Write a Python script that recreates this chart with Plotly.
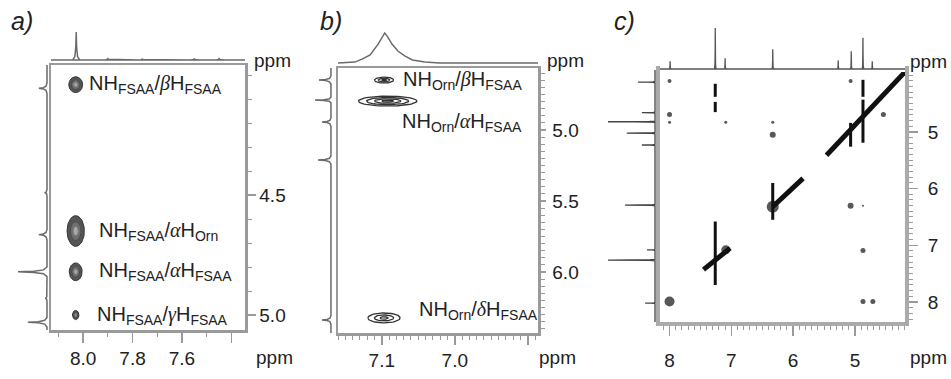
import numpy as np
import plotly.graph_objects as go

W, H = 951, 379
FONT = "Liberation Sans"
GREY = "#9a9a9a"
TXT = "#222222"
SPEC = "#6a6a6a"

def G(s):
    return '<span style="font-family:Liberation Serif"><i>%s</i></span>' % s

# ---------------- panel a data ----------------
a_spot_x = [8.03, 8.03, 8.03, 8.03]
a_spot_y = [4.04, 4.65, 4.82, 5.00]
a_spot_rx = [0.028, 0.035, 0.026, 0.013]
a_spot_ry = [0.033, 0.064, 0.037, 0.019]
a_label_text = ["NH<sub>FSAA</sub>/" + G("β") + "H<sub>FSAA</sub>",
                "NH<sub>FSAA</sub>/" + G("α") + "H<sub>Orn</sub>",
                "NH<sub>FSAA</sub>/" + G("α") + "H<sub>FSAA</sub>",
                "NH<sub>FSAA</sub>/" + G("γ") + "H<sub>FSAA</sub>"]
a_label_x = [7.985, 7.945, 7.945, 7.95]
a_label_y = [4.04, 4.65, 4.82, 5.00]
a_top_ppm = [8.028, 7.90, 7.76, 7.55, 7.45]
a_top_int = [1.0, 0.05, 0.03, 0.04, 0.05]
a_top_hw = [0.014, 0.02, 0.02, 0.02, 0.02]
a_left_ppm = [4.055, 4.49, 4.665, 4.82, 4.93, 5.03]
a_left_int = [0.28, 0.06, 0.28, 1.0, 0.06, 0.66]
a_left_hw = [0.022, 0.015, 0.022, 0.02, 0.015, 0.02]
a_xticks = [8.0, 7.8, 7.6, 7.4]
a_xtick_text = ["8.0", "7.8", "7.6", ""]
a_yticks = [4.5, 5.0]
a_ytick_text = ["4.5", "5.0"]

# ---------------- panel b data ----------------
b_spot_x = [7.097, 7.092, 7.097]
b_spot_y = [4.648, 4.796, 6.324]
b_spot_rx = [0.013, 0.040, 0.022]
b_spot_ry = [0.021, 0.035, 0.035]
b_label_text = ["NH<sub>Orn</sub>/" + G("β") + "H<sub>FSAA</sub>",
                "NH<sub>Orn</sub>/" + G("α") + "H<sub>FSAA</sub>",
                "NH<sub>Orn</sub>/" + G("δ") + "H<sub>FSAA</sub>"]
b_label_x = [7.074, 7.075, 7.052]
b_label_y = [4.648, 4.944, 6.268]
b_top_ppm = [7.162, 7.137, 7.127, 7.116, 7.105, 7.100, 7.096, 7.092, 7.086,
             7.078, 7.068, 7.058, 7.041, 7.021, 6.886]
b_top_int = [0, 0.03, 0.13, 0.27, 0.63, 0.83, 1.0, 0.87, 0.63, 0.4, 0.23,
             0.1, 0.03, 0, 0]
b_left_ppm = [4.648, 4.789, 4.944, 5.211, 6.338]
b_left_int = [0.75, 1.0, 0.56, 0.81, 0.56]
b_left_hw = [0.03, 0.02, 0.03, 0.03, 0.03]
b_xticks = [7.1, 7.0, 6.9]
b_xtick_text = ["7.1", "7.0", ""]
b_yticks = [5.0, 5.5, 6.0]
b_ytick_text = ["5.0", "5.5", "6.0"]

# ---------------- panel c data ----------------
c_dot_x = [8.0, 8.0, 8.0, 7.09, 6.33, 6.33, 5.07, 4.54, 6.33, 5.07, 4.87,
           7.09, 4.87, 8.0, 4.87, 4.71]
c_dot_y = [4.10, 4.69, 4.83, 4.83, 4.83, 5.05, 4.10, 4.69, 6.32, 6.30, 6.30,
           7.08, 7.09, 7.99, 7.99, 7.99]
c_dot_size = [4, 5, 3, 3, 3, 6, 4, 5, 12, 6, 2, 9, 5, 10, 5, 5]
c_diag_x0 = [7.45, 6.33, 5.46]
c_diag_y0 = [7.43, 6.32, 5.41]
c_diag_x1 = [7.02, 5.84, 4.19]
c_diag_y1 = [7.05, 5.82, 3.94]
c_streak_x = [7.26, 7.26, 4.87, 7.26, 6.33, 5.07, 4.87]
c_streak_y0 = [4.15, 4.47, 4.08, 6.58, 5.90, 4.84, 4.43]
c_streak_y1 = [4.38, 4.65, 4.38, 7.70, 6.55, 5.26, 5.19]
c_top_ppm = [7.99, 7.26, 7.10, 6.33, 5.27, 5.06, 4.87, 4.72]
c_top_int = [0.19, 1.0, 0.26, 0.48, 0.21, 0.43, 0.76, 0.19]
c_left_ppm = [4.12, 4.66, 4.82, 5.02, 5.23, 6.29, 7.08, 7.26, 8.02]
c_left_int = [0.36, 0.28, 1.0, 0.6, 0.28, 0.64, 0.17, 1.0, 0.21]
c_xticks = [8, 7, 6, 5]
c_yticks = [5, 6, 7, 8]


def spikes(centers, ints, hws, lo, hi):
    order = np.argsort(centers)
    xs, ys = [lo], [0]
    for i in order:
        c, h, w = centers[i], ints[i], hws[i]
        xs += [c - w, c - 0.4 * w, c - 0.12 * w, c, c + 0.12 * w, c + 0.4 * w, c + w]
        ys += [0, 0.12 * h, 0.45 * h, h, 0.45 * h, 0.12 * h, 0]
    xs.append(hi)
    ys.append(0)
    return xs, ys


def ellipse(cx, cy, rx, ry, n=60):
    t = np.linspace(0, 2 * np.pi, n)
    return cx + rx * np.cos(t), cy + ry * np.sin(t)


fig = go.Figure()

# ---- panel a traces ----
for cx, cy, rx, ry in zip(a_spot_x, a_spot_y, a_spot_rx, a_spot_ry):
    for s, fc, lc in [(1.0, "#555555", "#333333"), (0.62, "#6e6e6e", "#4a4a4a"),
                      (0.3, "#a8a8a8", "#808080")]:
        ex, ey = ellipse(cx, cy, rx * s, ry * s)
        fig.add_trace(go.Scatter(x=ex, y=ey, xaxis="x", yaxis="y", mode="lines",
                                 fill="toself", fillcolor=fc,
                                 line=dict(color=lc, width=1), hoverinfo="skip"))
tx, ty = spikes(a_top_ppm, a_top_int, a_top_hw, 8.13, 7.345)
fig.add_trace(go.Scatter(x=tx, y=ty, xaxis="x", yaxis="y2", mode="lines",
                         line=dict(color=SPEC, width=1.5)))
ly, lx = spikes(a_left_ppm, a_left_int, a_left_hw, 3.958, 5.0625)
fig.add_trace(go.Scatter(x=lx, y=ly, xaxis="x2", yaxis="y", mode="lines",
                         line=dict(color=SPEC, width=1.5)))

# ---- panel b traces ----
for k, (cx, cy, rx, ry) in enumerate(zip(b_spot_x, b_spot_y, b_spot_rx, b_spot_ry)):
    scales = [1.0, 0.72, 0.45, 0.2] if k == 1 else [1.0, 0.6, 0.25]
    for s in scales:
        ex, ey = ellipse(cx, cy, rx * s, ry * s)
        fig.add_trace(go.Scatter(x=ex, y=ey, xaxis="x3", yaxis="y3", mode="lines",
                                 line=dict(color="#333333", width=1.3), hoverinfo="skip"))
fig.add_trace(go.Scatter(x=b_top_ppm, y=b_top_int, xaxis="x3", yaxis="y4", mode="lines",
                         line=dict(color=SPEC, width=1.5)))
ly, lx = spikes(b_left_ppm, b_left_int, b_left_hw, 4.563, 6.43)
fig.add_trace(go.Scatter(x=lx, y=ly, xaxis="x4", yaxis="y3", mode="lines",
                         line=dict(color=SPEC, width=1.5)))

# ---- panel c traces ----
for x0, y0, x1, y1 in zip(c_diag_x0, c_diag_y0, c_diag_x1, c_diag_y1):
    fig.add_trace(go.Scatter(x=[x0, x1], y=[y0, y1], xaxis="x5", yaxis="y5", mode="lines",
                             line=dict(color="#111111", width=5)))
for sx, s0, s1 in zip(c_streak_x, c_streak_y0, c_streak_y1):
    fig.add_trace(go.Scatter(x=[sx, sx], y=[s0, s1], xaxis="x5", yaxis="y5", mode="lines",
                             line=dict(color="#111111", width=3)))
fig.add_trace(go.Scatter(x=c_dot_x, y=c_dot_y, xaxis="x5", yaxis="y5", mode="markers",
                         marker=dict(size=c_dot_size, color="#111111", line=dict(width=0))))
tx, ty = spikes(c_top_ppm, c_top_int, [0.012] * len(c_top_ppm), 8.154, 4.19)
fig.add_trace(go.Scatter(x=tx, y=ty, xaxis="x5", yaxis="y6", mode="lines",
                         line=dict(color="#555555", width=1.3)))
ly, lx = spikes(c_left_ppm, c_left_int, [0.012] * len(c_left_ppm), 3.907, 8.353)
fig.add_trace(go.Scatter(x=lx, y=ly, xaxis="x6", yaxis="y5", mode="lines",
                         line=dict(color="#444444", width=1.3)))


def px(v):
    return v / W


def py(v):
    return 1 - v / H


tickfont = dict(family=FONT, size=19, color=TXT)


def main_x(dom, anchor, rng, tv, tt, ticklen, minor_dt, standoff):
    return dict(domain=dom, anchor=anchor, range=rng, showgrid=False, zeroline=False,
                automargin=False,
                showline=True, mirror=True, linecolor=GREY, linewidth=2.5,
                ticks="outside", ticklen=ticklen, tickwidth=1.5, tickcolor=GREY,
                tickmode="array", tickvals=tv, ticktext=tt, tickfont=tickfont,
                ticklabelstandoff=standoff,
                minor=dict(tickmode="linear", tick0=0, dtick=minor_dt, ticks="outside",
                           ticklen=4, tickcolor=GREY, tickwidth=1))


def main_y(dom, anchor, rng, tv, tt, ticklen, minor_dt, standoff):
    d = main_x(dom, anchor, rng, tv, tt, ticklen, minor_dt, standoff)
    d["side"] = "right"
    return d


hid = dict(visible=False, showgrid=False, zeroline=False, fixedrange=True, automargin=False)

fig.update_layout(
    template="none",
    width=W, height=H, margin=dict(l=0, r=0, t=0, b=0, pad=0, autoexpand=False),
    paper_bgcolor="white", plot_bgcolor="white", showlegend=False,
    xaxis=main_x([px(51), px(245)], "y", [8.13, 7.345], a_xticks, a_xtick_text, 10, 0.1, 0),
    yaxis=main_y([py(330), py(65)], "x", [5.0625, 3.958], a_yticks, a_ytick_text, 8, 0.1, 0),
    yaxis2=dict(domain=[py(64), py(20)], anchor="x", range=[-0.143, 1.43], **hid),
    xaxis2=dict(domain=[0, px(51)], anchor="y", range=[1.62, -0.138], **hid),
    xaxis3=main_x([px(338), px(538)], "y3", [7.16, 6.886], b_xticks, b_xtick_text, 9, 0.01, 0),
    yaxis3=main_y([py(333), py(68)], "x3", [6.43, 4.563], b_yticks, b_ytick_text, 5, 0.05, 3),
    yaxis4=dict(domain=[py(66), py(20)], anchor="x3", range=[-0.1, 1.433], **hid),
    xaxis4=dict(domain=[px(300), px(338)], anchor="y3", range=[1.94, -0.44], **hid),
    xaxis5=main_x([px(660), px(905)], "y5", [8.154, 4.19], c_xticks, [str(v) for v in c_xticks], 10, 0.1, 8),
    yaxis5=main_y([py(322), py(70)], "x5", [8.353, 3.907], c_yticks, [str(v) for v in c_yticks], 9, 0.1, 6),
    yaxis6=dict(domain=[py(72), py(20)], anchor="x5", range=[-0.073, 1.195], **hid),
    xaxis6=dict(domain=[px(600), px(660)], anchor="y5", range=[1.17, -0.106], **hid),
)
fig.layout.xaxis5.linewidth = 4
fig.layout.yaxis5.linewidth = 4
fig.layout.xaxis5.linecolor = "#aaaaaa"
fig.layout.yaxis5.linecolor = "#aaaaaa"

ann = []
lab_font = dict(family=FONT, size=20, color=TXT)
for t, x, y in zip(a_label_text, a_label_x, a_label_y):
    ann.append(dict(text=t, x=x, y=y, xref="x", yref="y", xanchor="left", yanchor="middle",
                    showarrow=False, font=lab_font))
for t, x, y in zip(b_label_text, b_label_x, b_label_y):
    ann.append(dict(text=t, x=x, y=y, xref="x3", yref="y3", xanchor="left", yanchor="middle",
                    showarrow=False, font=lab_font))

ppm_font = dict(family=FONT, size=19, color=TXT)
for (x, y, anc) in [(272, 60, "center"), (274, 357, "center"), (565, 60, "center"),
                    (557, 357, "center"), (949, 62, "right"), (949, 357, "right")]:
    ann.append(dict(text="ppm", x=px(x), y=py(y), xref="paper", yref="paper",
                    xanchor=anc, yanchor="middle", showarrow=False, font=ppm_font))
for (t, x) in [("a)", 9), ("b)", 318), ("c)", 612)]:
    ann.append(dict(text="<i>%s</i>" % t, x=px(x), y=py(21), xref="paper", yref="paper",
                    xanchor="left", yanchor="middle", showarrow=False,
                    font=dict(family=FONT, size=25, color=TXT)))
fig.update_layout(annotations=ann)

fig.write_html("out.html", config={"displayModeBar": False, "staticPlot": True},
               post_script="document.body.style.margin='0px';document.body.style.padding='0px';")
